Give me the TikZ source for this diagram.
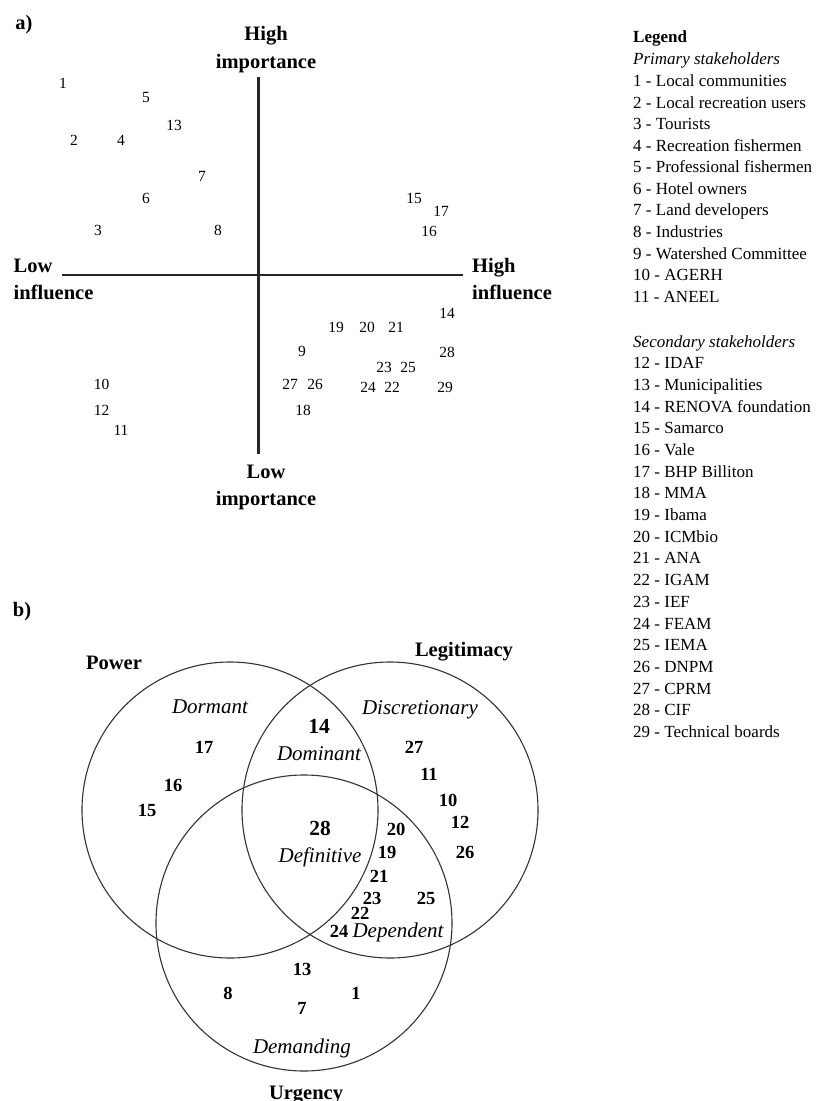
\documentclass[tikz,border=0pt]{standalone}
\usepackage{fontspec}
\setmainfont{Liberation Serif}
\begin{document}
\begin{tikzpicture}[x=1pt,y=-1pt,
  lab/.style={font=\bfseries\fontsize{20.5}{24}\selectfont, anchor=base, yshift=-7pt, inner sep=0pt},
  labw/.style={lab, anchor=base west},
  an/.style={font=\fontsize{15.5}{18}\selectfont, anchor=base, yshift=-5.2pt, inner sep=0pt},
  vn/.style={font=\bfseries\fontsize{18.5}{22}\selectfont, anchor=base, yshift=-6.2pt, inner sep=0pt},
  vbig/.style={font=\bfseries\fontsize{21.5}{24}\selectfont, anchor=base, yshift=-7.2pt, inner sep=0pt},
  vit/.style={font=\itshape\fontsize{21}{24}\selectfont, anchor=base, yshift=-6pt, inner sep=0pt},
  leg/.style={font=\fontsize{17}{20}\selectfont, anchor=base west, yshift=-5.6pt, inner sep=0pt},
  axis/.style={line width=2.6pt, draw=black!85},
  venn/.style={circle, draw=black!80, line width=1.1pt, minimum size=296pt, inner sep=0pt}
]
\useasboundingbox (0,0) rectangle (820,1101);

% ---------- part a ----------
\node[lab] (ta) at (24,22) {a)};
\coordinate (vtop) at (258.5,77);
\coordinate (vbot) at (258.5,453.5);
\coordinate (hleft) at (62,275);
\coordinate (hright) at (463,275);
\draw[axis] (vtop) -- (vbot);
\draw[axis] (hleft) -- (hright);

\node[lab] (hi1) at (266,33) {High};
\node[lab] (hi2) at (266,61.5) {importance};
\node[labw] (li1) at (13.5,265.5) {Low};
\node[labw] (li2) at (13.5,292.5) {influence};
\node[labw] (hf1) at (472,265.5) {High};
\node[labw] (hf2) at (472,292.5) {influence};
\node[lab] (lo1) at (266,471) {Low};
\node[lab] (lo2) at (266,498) {importance};

\node[an] (a1) at (63,83) {1};
\node[an] (a5) at (146,97) {5};
\node[an] (a13) at (174,125) {13};
\node[an] (a2) at (74,140) {2};
\node[an] (a4) at (121,140) {4};
\node[an] (a7) at (202,176) {7};
\node[an] (a6) at (146,198) {6};
\node[an] (a3) at (98,230) {3};
\node[an] (a8) at (218,230) {8};
\node[an] (a15) at (414,198) {15};
\node[an] (a17) at (441,211) {17};
\node[an] (a16) at (429,231) {16};
\node[an] (a14) at (447,313) {14};
\node[an] (a19) at (336,327) {19};
\node[an] (a20) at (367,327) {20};
\node[an] (a21) at (396,327) {21};
\node[an] (a9) at (302,351.5) {9};
\node[an] (a28) at (447,352) {28};
\node[an] (a23) at (384,367) {23};
\node[an] (a25) at (408,367) {25};
\node[an] (a27) at (290,384) {27};
\node[an] (a26) at (315,384) {26};
\node[an] (a24) at (368,387) {24};
\node[an] (a22) at (392,387) {22};
\node[an] (a29) at (445,387) {29};
\node[an] (a10) at (101.5,384) {10};
\node[an] (a12) at (101.5,410) {12};
\node[an] (a11) at (121,430) {11};
\node[an] (a18) at (303,410) {18};

% ---------- legend ----------
\node[leg, font=\bfseries\fontsize{17}{20}\selectfont] (lg) at (633,37) {Legend};
\node[leg, font=\itshape\fontsize{17}{20}\selectfont] (lp) at (633,59) {Primary stakeholders};
\foreach \i/\t in {1/Local communities,2/Local recreation users,3/Tourists,4/Recreation fishermen,5/Professional fishermen,6/Hotel owners,7/Land developers,8/Industries,9/Watershed Committee,10/AGERH,11/ANEEL}{
  \node[leg] (l\i) at (633,{81+21.55*(\i-1)}) {\i\ - \t};
}
\node[leg, font=\itshape\fontsize{17}{20}\selectfont] (ls) at (633,341.5) {Secondary stakeholders};
\foreach \i/\t in {12/IDAF,13/Municipalities,14/RENOVA foundation,15/Samarco,16/Vale,17/BHP Billiton,18/MMA,19/Ibama,20/ICMbio,21/ANA,22/IGAM,23/IEF,24/FEAM,25/IEMA,26/DNPM,27/CPRM,28/CIF,29/Technical boards}{
  \node[leg] (l\i) at (633,{363+21.7*(\i-12)}) {\i\ - \t};
}

% ---------- part b ----------
\node[lab] (tb) at (22,609) {b)};
\node[venn] (power) at (230,810) {};
\node[venn] (legit) at (390,810) {};
\node[venn] (urg) at (304,923) {};

\node[lab] (pw) at (114,662) {Power};
\node[lab] (lt) at (464,649) {Legitimacy};
\node[lab] (ug) at (306,1092) {Urgency};

\node[vit] (dorm) at (210,707) {Dormant};
\node[vit] (disc) at (420,708) {Discretionary};
\node[vit] (domi) at (319,754) {Dominant};
\node[vit] (defi) at (320,856) {Definitive};
\node[vit] (depe) at (398,931) {Dependent};
\node[vit] (dema) at (302,1047) {Demanding};

\node[vbig] (b14) at (319,726) {14};
\node[vbig] (b28) at (320,828) {28};
\node[vn] (b17) at (204,747) {17};
\node[vn] (b16) at (173,785) {16};
\node[vn] (b15) at (147,810) {15};
\node[vn] (b27) at (414,747) {27};
\node[vn] (b11) at (429,774) {11};
\node[vn] (b10) at (448,800) {10};
\node[vn] (b12) at (460,822) {12};
\node[vn] (b26) at (465,852) {26};
\node[vn] (b20) at (396,829) {20};
\node[vn] (b19) at (387,852) {19};
\node[vn] (b21) at (379,876) {21};
\node[vn] (b23) at (372,898) {23};
\node[vn] (b25) at (426,898) {25};
\node[vn] (b22) at (360,913) {22};
\node[vn] (b24) at (339,931) {24};
\node[vn] (b13) at (302,969) {13};
\node[vn] (b8) at (228,993) {8};
\node[vn] (b1) at (356,993) {1};
\node[vn] (b7) at (302,1008) {7};
\end{tikzpicture}
\end{document}
